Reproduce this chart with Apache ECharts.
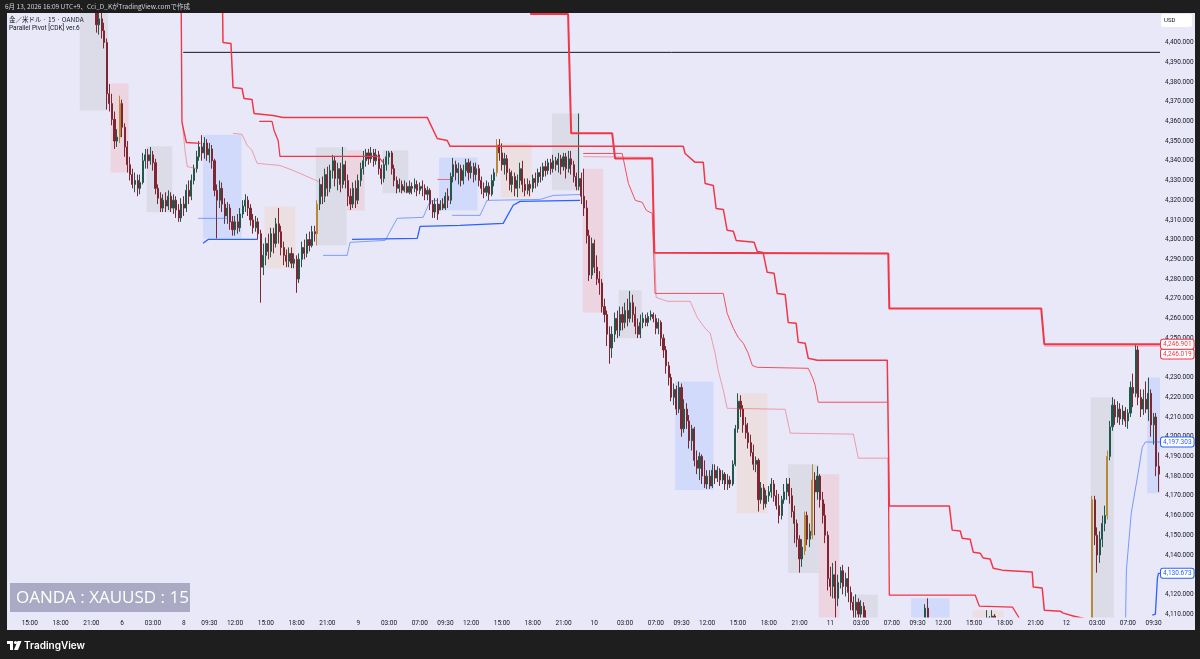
<!DOCTYPE html>
<html><head><meta charset="utf-8">
<script src="https://cdn.jsdelivr.net/npm/echarts@6/dist/echarts.min.js"></script>
<style>
html,body{margin:0;padding:0;background:#1e1e1e;width:1200px;height:659px;overflow:hidden}
#bg{position:absolute;left:7px;top:13px;width:1188px;height:617px;background:#e9e8f9}
#c{position:absolute;left:0;top:0;width:1200px;height:659px}
</style></head><body>
<div id="bg"></div><div id="c"></div>
<script>
// ---------- DATA ----------
const sessions = [
  ["2026-06-05 13:00","2026-06-06 05:45"],
  ["2026-06-08 07:00","2026-06-09 05:45"],
  ["2026-06-09 07:00","2026-06-10 05:45"],
  ["2026-06-10 07:00","2026-06-11 05:45"],
  ["2026-06-11 07:00","2026-06-12 05:45"],
  ["2026-06-12 07:00","2026-06-12 10:00"]
];
const tickLabels = [
  ["06-05 15:00","15:00"],["06-05 18:00","18:00"],["06-05 21:00","21:00"],["06-06 00:00","6"],["06-06 03:00","03:00"],
  ["06-08 07:00","8"],["06-08 09:30","09:30"],["06-08 12:00","12:00"],["06-08 15:00","15:00"],["06-08 18:00","18:00"],["06-08 21:00","21:00"],
  ["06-09 00:00","9"],["06-09 03:00","03:00"],["06-09 07:00","07:00"],["06-09 09:30","09:30"],["06-09 12:00","12:00"],["06-09 15:00","15:00"],["06-09 18:00","18:00"],["06-09 21:00","21:00"],
  ["06-10 00:00","10"],["06-10 03:00","03:00"],["06-10 07:00","07:00"],["06-10 09:30","09:30"],["06-10 12:00","12:00"],["06-10 15:00","15:00"],["06-10 18:00","18:00"],["06-10 21:00","21:00"],
  ["06-11 00:00","11"],["06-11 03:00","03:00"],["06-11 07:00","07:00"],["06-11 09:30","09:30"],["06-11 12:00","12:00"],["06-11 15:00","15:00"],["06-11 18:00","18:00"],["06-11 21:00","21:00"],
  ["06-12 00:00","12"],["06-12 03:00","03:00"],["06-12 07:00","07:00"],["06-12 09:30","09:30"]
];
// [open, close, low, high]
const ohlc = [
[4436,4432,4428,4440],[4432,4428,4424,4436],[4428,4435,4426,4438],[4435,4440,4432,4444],[4440,4437,4433,4443],
[4437,4430,4427,4439],[4430,4426,4422,4433],[4426,4433,4424,4436],[4433,4438,4430,4441],[4438,4442,4435,4446],
[4442,4436,4432,4445],[4436,4431,4428,4439],[4431,4427,4424,4434],[4427,4424,4420,4430],[4424,4429,4421,4432],
[4429,4434,4426,4437],[4434,4431,4427,4437],[4431,4426,4423,4434],[4426,4422,4419,4429],[4422,4425,4419,4428],
[4425,4430,4422,4433],[4430,4428,4424,4433],[4428,4423,4420,4431],[4423,4420,4417,4426],[4420,4424,4417,4427],
[4424,4427,4421,4430],[4427,4425,4421,4430],[4425,4421,4418,4428],[4421,4419,4417,4425],[4419,4422,4417,4426],
[4422,4424,4419,4428],[4424,4420,4417,4427],[4420,4418,4416,4423],[4418,4421,4416,4424],[4421,4409,4405,4423],
[4409,4412,4404,4418],[4412,4406,4402,4416],[4406,4400,4397,4410],[4400,4374,4366,4402],[4374,4369,4365,4379],
[4369,4361,4358,4374],[4361,4350,4346,4365],[4350,4352,4347,4356],[4352,4369,4349,4373],[4369,4357,4352,4371],
[4357,4347,4342,4359],[4347,4338,4334,4350],[4338,4333,4330,4342],[4333,4328,4326,4336],[4328,4330,4324,4334],
[4330,4326,4322,4333],[4326,4329,4323,4333],[4329,4340,4328,4344],[4340,4343,4336,4346],[4343,4340,4336,4346],
[4340,4343,4338,4347],[4343,4339,4335,4345],[4339,4326,4323,4341],[4326,4321,4318,4328],[4321,4316,4314,4324],
[4316,4320,4314,4323],[4320,4317,4314,4324],[4317,4322,4315,4325],[4322,4316,4314,4324],[4316,4320,4313,4323],
[4320,4315,4311,4322],[4315,4311,4309,4318],[4311,4318,4309,4321],[4318,4316,4312,4322],[4316,4325,4314,4328],
[4325,4322,4318,4330],[4322,4330,4320,4333],[4330,4336,4328,4338],[4336,4342,4334,4345],[4342,4347,4340,4350],
[4347,4344,4340,4353],[4344,4349,4341,4352],[4349,4343,4340,4351],[4343,4346,4339,4349],[4346,4340,4336,4348],
[4340,4325,4322,4341],[4325,4320,4300.6,4328],[4320,4326,4316,4330],[4326,4318,4314,4329],[4318,4312,4308,4321],
[4312,4316,4308,4319],[4316,4309,4305,4318],[4309,4305,4302,4312],[4305,4309,4302,4312],[4309,4306,4303,4313],
[4306,4313,4304,4316],[4313,4317,4311,4320],[4317,4320,4314,4323],[4320,4316,4312,4322],[4316,4310,4307,4318],
[4310,4306,4303,4313],[4306,4309,4304,4312],[4309,4303,4300,4311],[4303,4286,4268,4305],[4286,4292,4282,4298],
[4292,4298,4287,4301],[4298,4294,4290,4303],[4294,4303,4291,4306],[4303,4298,4293,4306],[4298,4308,4296,4311],
[4308,4304,4298,4316],[4304,4296,4292,4307],[4296,4292,4287,4299],[4292,4289,4286,4295],[4289,4293,4286,4296],
[4293,4288,4285.5,4296],[4288,4290,4285.5,4293],[4290,4280,4273,4292],[4280,4290,4278,4293],[4290,4296,4286,4299],
[4296,4293,4290,4300],[4293,4300,4291,4303],[4300,4297,4294,4304],[4297,4304,4296,4307],[4304,4303,4299,4307],
[4303,4318,4297,4320],[4318,4328,4315,4331],[4328,4322,4318,4332],[4322,4333,4319,4336],[4333,4326,4322,4337],
[4326,4335,4324,4338],[4335,4340,4331,4343],[4340,4331,4327,4342],[4331,4336,4325,4339],[4336,4328,4324,4339],
[4328,4338,4326,4347],[4338,4330,4326,4340],[4330,4322,4317,4333],[4322,4318,4315,4326],[4318,4326,4316,4329],
[4326,4320,4316,4330],[4320,4330,4318,4333],[4330,4336,4327,4339],[4336,4340,4333,4345],[4340,4344,4337,4346],
[4344,4341,4338,4346],[4341,4344,4339,4347],[4344,4340,4337,4346],[4340,4343,4338,4346],[4343,4336,4333,4345],
[4336,4331,4328,4338],[4331,4338,4329,4341],[4338,4342,4335,4345],[4342,4344,4338,4345],[4344,4336,4333,4345],
[4336,4330,4327,4338],[4330,4326,4323.5,4332],[4326,4328,4324,4331],[4328,4325,4323.5,4330],[4325,4327,4324,4330],
[4327,4324,4323.5,4329],[4324,4327,4323,4330],[4327,4326,4323,4329],[4326,4328,4324,4331],[4328,4325,4322,4330],
[4325,4327,4323,4329],[4327,4326,4322,4330],[4326,4323,4320,4328],[4323,4325,4320,4327],[4325,4318,4315,4326],
[4318,4314,4311,4320],[4314,4318,4311,4321],[4318,4313,4310,4321],[4315,4318,4315,4320],[4318,4316,4315,4321],
[4316,4322,4315,4324],[4322,4320,4316,4326],[4320,4332,4318,4334],[4332,4338,4329,4341.5],[4338,4334,4330,4340],
[4334,4336,4328,4339],[4336,4330,4327,4338],[4330,4335,4328,4338],[4335,4339,4332,4341],[4339,4334,4330,4341],
[4334,4337,4331,4340],[4337,4333,4329,4339],[4333,4336,4330,4339],[4336,4330,4327,4338],[4330,4326,4323,4332],
[4326,4324,4321,4329],[4324,4327,4322,4330],[4327,4323,4320,4329],[4323,4330,4322,4333],[4330,4334,4327,4336],
[4334,4348,4332,4351],[4348,4344,4340,4351],[4344,4338,4335,4348.8],[4338,4341,4333,4344],[4341,4334,4330,4343],
[4334,4328,4325,4336],[4328,4332,4324,4335],[4332,4326,4322,4334],[4326,4330,4321.5,4333],[4330,4336,4326,4339],
[4336,4328,4324,4340],[4328,4325,4322,4331],[4325,4328,4323,4331],[4328,4326,4322,4330],[4326,4331,4324,4333],
[4331,4329,4326,4334],[4329,4334,4327,4336],[4334,4332,4329,4337],[4332,4337,4330,4339],[4337,4335,4332,4340],
[4335,4339,4333,4341],[4339,4336,4333,4341],[4336,4340,4334,4343],[4340,4338,4335,4342],[4338,4341,4334,4344],
[4341,4337,4333,4343],[4337,4342,4335,4344],[4342,4336,4331,4344],[4336,4341,4334,4345],[4341,4338,4333,4345],
[4338,4332,4329,4340],[4332,4327,4325,4334],[4327,4331,4325,4364],[4331,4322,4318,4334],[4322,4316,4312,4336],
[4316,4302,4298,4320],[4302,4282,4279,4305],[4282,4298,4280,4301],[4298,4286,4283,4300],[4286,4280,4277,4292],
[4280,4278,4272,4284],[4278,4266,4263,4280],[4266,4262,4258,4270],[4262,4252,4246,4264],[4252,4245,4237,4256],
[4245,4252,4240,4256],[4252,4260,4248,4263],[4260,4254,4250,4264],[4254,4262,4251,4266],[4262,4258,4254,4266],
[4258,4264,4255,4268],[4264,4260,4256,4270],[4260,4268,4258,4274],[4268,4262,4258,4272],[4262,4256,4252,4266],
[4256,4252,4250,4260],[4252,4258,4250,4262],[4258,4260,4255,4263],[4260,4258,4256,4262],[4258,4261,4256,4263],
[4261,4262,4259,4264],[4262,4260,4258,4263],[4260,4255,4252,4262],[4255,4258,4252,4260],[4258,4250,4246,4259],
[4250,4244,4240,4252],[4244,4236,4232,4246],[4236,4230,4226,4238],[4230,4220,4218,4232],[4220,4224,4216,4227],
[4224,4214,4211,4226],[4214,4225,4212,4228],[4225,4204,4200,4227],[4204,4214,4202,4219],[4214,4208,4204,4217],
[4208,4198,4194,4211],[4198,4204,4193,4206],[4204,4188,4185,4205],[4188,4184,4181,4193],[4184,4190,4178,4192],
[4190,4180,4176,4191],[4180,4176,4174,4188],[4176,4180,4173.5,4183],[4180,4175,4173.5,4183],[4175,4183,4174,4186],
[4183,4179,4176,4186],[4179,4183,4177,4185],[4183,4178,4175,4184],[4178,4181,4176,4183],[4181,4176,4173,4182],
[4176,4178,4173,4181],[4178,4176,4174,4180],[4176,4186,4175,4188],[4186,4204,4185,4206],[4204,4218,4202,4222],
[4218,4214,4210,4221],[4214,4206,4202,4216],[4206,4202,4199,4210],[4202,4197,4194,4207],[4197,4192,4190,4201],
[4192,4186,4183,4196],[4186,4188,4182,4190],[4188,4168,4162,4189],[4168,4174,4166,4177],[4174,4166,4163,4176],
[4166,4170,4164,4173],[4170,4172,4167,4175],[4172,4176,4169,4179],[4176,4170,4167,4178],[4170,4165,4163,4173],
[4165,4160,4156,4171],[4160,4168,4158,4170],[4168,4172,4166,4176],[4172,4176,4168,4179],[4176,4170,4166,4179],
[4170,4162,4159,4174],[4162,4156,4146,4165],[4156,4148,4144,4158],[4148,4138,4131,4150],[4138,4144,4134,4148],
[4142,4160,4140,4162],[4160,4148,4145,4162],[4148,4152,4144,4156],[4150,4178,4148,4186],[4178,4172,4150,4182],
[4172,4180,4168,4185],[4180,4168,4164,4181],[4168,4160,4156,4172],[4160,4150,4146,4166],[4150,4128,4122,4152],
[4128,4124,4119,4134],[4124,4130,4118,4136],[4130,4118,4106,4137],[4118,4126,4114,4130],[4126,4132,4123,4134],
[4132,4124,4120,4135],[4124,4128,4119,4131],[4128,4121,4116,4134],[4121,4116,4112,4124],[4116,4112,4108,4119],
[4112,4116,4106,4120],[4116,4110,4104,4118],[4110,4114,4104,4117],[4114,4108,4100,4116],[4108,4102,4096,4112],
[4102,4098,4094,4108],[4098,4094,4090,4104],[4094,4098,4091,4103],[4098,4092,4088,4102],[4092,4089,4085,4096],
[4089,4093,4086,4097],[4093,4096,4090,4101],[4096,4092,4088,4100],[4092,4095,4089,4099],[4095,4099,4092,4103],
[4099,4096,4093,4104],[4096,4100,4094,4105],[4100,4097,4093,4104],[4097,4093,4090,4101],[4093,4096,4091,4100],
[4096,4099,4094,4103],[4099,4095,4092,4104],[4095,4100,4093,4105],[4100,4098,4095,4106],[4098,4102,4096,4106],
[4102,4099,4096,4106],[4099,4104,4097,4107],[4104,4113,4102,4115],[4113,4106,4100,4118],[4106,4101,4097,4107],
[4101,4098,4095,4104],[4098,4101,4096,4105],[4101,4097,4094,4104],[4097,4094,4091,4100],[4094,4097,4092,4101],
[4097,4093,4090,4100],[4093,4096,4091,4100],[4096,4092,4089,4099],[4092,4089,4086,4095],[4089,4093,4087,4096],
[4093,4096,4091,4100],[4096,4094,4091,4100],[4094,4098,4092,4102],[4098,4101,4096,4104],[4101,4099,4096,4105],
[4099,4102,4097,4106],[4102,4100,4097,4106],[4100,4103,4098,4107],[4103,4101,4098,4106],[4101,4104,4099,4107],
[4104,4102,4099,4107],[4102,4108,4100,4112],[4108,4103,4100,4109],[4103,4109,4101,4112],[4109,4104,4101,4110],
[4104,4100,4097,4107],[4100,4097,4094,4103],[4097,4093,4090,4100],[4093,4090,4087,4096],[4090,4086,4082,4093],
[4086,4089,4083,4092],[4089,4085,4081,4092],[4085,4082,4078,4088],[4082,4086,4079,4089],[4086,4083,4080,4089],
[4083,4080,4076,4086],[4080,4084,4077,4087],[4084,4081,4078,4087],[4081,4078,4074,4084],[4078,4082,4075,4085],
[4082,4079,4076,4085],[4079,4076,4072,4082],[4076,4080,4073,4083],[4080,4077,4074,4083],[4077,4081,4075,4084],
[4081,4078,4075,4084],[4078,4082,4076,4086],[4082,4079,4076,4085],[4079,4076,4073,4082],[4076,4079,4074,4083],
[4079,4082,4077,4086],[4082,4078,4075,4085],[4078,4081,4076,4084],[4081,4084,4079,4088],[4084,4080,4077,4087],
[4080,4077,4074,4083],[4077,4080,4075,4083],[4080,4078,4075,4082],[4078,4082,4076,4085],[4082,4079,4076,4085],
[4079,4083,4077,4086],[4083,4080,4077,4086],[4080,4168,4078,4170],[4168,4150,4145,4170],[4150,4140,4131,4154],
[4140,4148,4136,4152],[4148,4156,4144,4160],[4156,4160,4152,4165],[4160,4190,4158,4193],[4190,4205,4188,4208],
[4205,4216,4203,4220],[4216,4210,4206,4219],[4210,4214,4207,4218],[4214,4209,4206,4217],[4209,4213,4206,4216],
[4213,4208,4205,4215],[4208,4212,4204,4214],[4212,4225,4210,4228],[4225,4222,4215,4232],[4222,4244,4220,4247],
[4244,4220,4216,4246],[4220,4214,4210,4224],[4214,4219,4211,4224],[4219,4214,4212,4228],[4214,4222,4208,4230],
[4222,4206,4200,4224],[4206,4210,4196,4212],[4210,4185,4180,4212],[4185,4181,4172,4192]
];
const orangeBars = [43,120,190,310,313,422,428];
// session boxes: [firstBar, lastBar, top, bottom, kind(0 gray,1 red,2 blue,3 tan)]
const sessionBoxes = [
[28,38,4430,4365.5,0],[40,46,4379.2,4334.1,1],[54,63,4347.3,4313.9,0],[76,90,4353.2,4300.6,2],
[100,111,4316.8,4285.4,3],[120,131,4346.8,4297,0],[132,138,4345.3,4314.8,1],[146,155,4345.3,4323.5,0],
[168,182,4341.7,4314.8,2],[192,203,4348.8,4321.4,3],[212,222,4364,4325,0],[224,231,4336,4263,1],
[238,246,4274.3,4250,0],[260,274,4228,4172.9,2],[284,295,4222,4161.2,3],[304,315,4186,4130.8,0],
[316,323,4181,4095,1],[330,338,4120,4085,0],[352,366,4118,4085,2],[376,387,4112,4080,3],
[422,430,4220,4070,0],[444,448,4230,4171.3,2]
];
// pivot lines: [barIndex, price]
const pivotWeekOpen = [[67,4420],[67.3,4359.5],[69,4349.3],[74.5,4348.8]];
const pivotWeekOpenThin = [[67.5,4359],[68.5,4345],[69.4,4337],[70,4336],[73.5,4336]];
const pivotFallThin = [[87.2,4353.9],[90.7,4353.4],[92.7,4347.8],[94.6,4345.3],[96.6,4338.7],[105.5,4337.6],[110.6,4335.1],[119.6,4330],[121.1,4329]];
const pivotShort = [[166.8,4330.5],[171.8,4330.5]];
const pivotMid = [[97.4,4360],[102.4,4360],[103.2,4355.4],[104.8,4350.3],[105.5,4342.2],[143.7,4342.2],[145.7,4339.2]];
const pivotMain = [[83.1,4420],[83.3,4400],[86.4,4399.5],[87.2,4377.2],[90.7,4376.7],[91.5,4371.6],[94.6,4371.1],[95.4,4364],[102.8,4363],[106.7,4362],[162.9,4362],[166.8,4351.3],[170.7,4350.3],[171.8,4347.3],[262.7,4347.3],[263.4,4343.7],[267.3,4339.2],[270.5,4339.2],[271.2,4328.5],[274.4,4327.5],[275.5,4315.8],[278.3,4315.3],[279.8,4304.7],[282.2,4304.2],[283.3,4299.6],[290.3,4298.6],[291.5,4294],[293.8,4293.5],[295.4,4283.4],[298.1,4282.9],[299.3,4272.7],[302.4,4272.2],[303.6,4258],[306.7,4257.5],[307.5,4247.9],[310.2,4247.4],[311.4,4239.8],[314.9,4238.8],[342.2,4238.8],[343,4164.8],[366.4,4164.8],[367.5,4152.6],[370.7,4152.1],[371.4,4148.5],[374.5,4148],[375.7,4141.4],[378.4,4140.9],[379.6,4138.4],[382.3,4137.9],[383.5,4133.3],[387,4132.3],[398.7,4131.3],[399.1,4123.7],[402.6,4123.2],[403.4,4112],[409.6,4111.5],[410.8,4110.5],[414.7,4109],[421.3,4107],[425,4100]];
const pivotWeekly = [[203,4414.5],[217.8,4414.5],[219,4353.9],[235,4353.9],[236.1,4341.2],[250.6,4341.2],[251.4,4293.3],[342.6,4293],[343,4265.1],[402.2,4265.1],[403.4,4246.9],[448.5,4246.901]];
const pivotUpper = [[223.7,4343.7],[238.9,4343.7],[241.3,4328.5],[244,4319.9],[246.7,4318.9],[248.3,4314.8],[250.6,4313.3],[251.7,4272.7],[278.3,4272.7],[279.8,4262.6],[282.2,4255],[284.1,4250.4],[286.1,4247.4],[288,4242.3],[289.6,4236.2],[291.5,4235.2],[311.4,4234.7],[313,4230.2],[314.1,4226.1],[315.3,4217.5],[342.6,4217.5]];
const pivotLowerThin = [[223.7,4342.1],[250.6,4341.7],[252.1,4270.7],[256.4,4268.7],[265.4,4268.7],[268.1,4260.6],[271.2,4255],[273.2,4252.5],[275.1,4242.3],[276.3,4233.7],[278.3,4223.6],[279.8,4214.4],[302.4,4213.9],[304.4,4201.8],[329,4201.3],[330.9,4189.1],[342.6,4189.1]];
const pivotLow = [[342.6,4189.1],[343,4119.6],[376.5,4119.6],[378.1,4114],[391,4113.5],[394.1,4107],[396,4100]];
const pivotEnd2 = [[403.4,4246.0],[448.5,4246.019]];
const supportAThin = [[73.6,4310.8],[85.3,4310.8]];
const supportA = [[75.5,4298.1],[77.5,4300.1],[96.6,4300.1]];
const supportBThin = [[122.3,4292],[131.7,4292],[132.8,4298.6],[146.5,4299.6],[151.2,4310.8],[161.3,4311.3],[164,4319.4],[166.8,4319.9]];
const supportB = [[133.6,4300.1],[159,4300.6],[160.1,4306.7],[175.7,4307.2],[192.5,4308.2],[196.4,4317.4],[199.1,4319.4],[222.5,4319.9]];
const supportCThin = [[172.6,4312.3],[183.5,4312.3],[186.2,4319.9],[206.9,4320.4],[212,4322.4],[222.5,4322.9]];
const supportDThin = [[435,4100],[435.4,4132.3],[437.3,4161.2],[439.7,4179.5],[441.6,4194.7],[442.8,4197.303],[448.5,4197.303]];
const supportD = [[445.5,4109.5],[446.7,4110],[447.5,4128.3],[447.9,4130.673],[448.5,4130.673]];
const blackLevel = [[67.8,4395],[448.5,4395]];

// ---------- BUILD ----------
function parseT(s){const [d,t]=s.split(' ');const [Y,M,D]=d.split('-').map(Number);const [h,m]=t.split(':').map(Number);return Date.UTC(Y,M-1,D,h,m);}
const pad=n=>String(n).padStart(2,'0');
function fmtT(t){const d=new Date(t);return pad(d.getUTCMonth()+1)+'-'+pad(d.getUTCDate())+' '+pad(d.getUTCHours())+':'+pad(d.getUTCMinutes());}
const categories=[];
sessions.forEach(([a,b])=>{for(let t=parseT(a),e=parseT(b);t<=e;t+=900000)categories.push(fmtT(t));});
const tickMap=new Map(tickLabels);
function fmtPrice(v){const [a,b]=Number(v).toFixed(3).split('.');return a.replace(/\B(?=(\d{3})+$)/g,',')+'.'+b;}

const UP='#24574b', DOWN='#802633', ORANGE='#b68a36';
const RED='#f23645', BLUE='#2962ff';
const boxColors=['#dbdce8','#ecd4e1','#d2dafb','#ecdfe2'];
const candleData=ohlc.map((v,i)=>orangeBars.includes(i)?{value:v,itemStyle:{color:ORANGE,color0:ORANGE,borderColor:ORANGE,borderColor0:ORANGE}}:v);

function tag(color,dy){return {show:true,formatter:p=>fmtPrice(p.value[1]),color:color,backgroundColor:'#ffffff',borderColor:color,borderWidth:1,borderRadius:2,padding:[1,2,1,2],fontSize:6.5,fontFamily:'Roboto',distance:1,offset:[0,dy||0]};}
function line(data,color,width,label){return {type:'line',xAxisIndex:1,yAxisIndex:0,data:data,symbol:'none',showSymbol:false,silent:true,z:5,lineStyle:{color:color,width:width},endLabel:label||{show:false}};}

const BGC='#e9e8f9', DARK='#1e1e1e';
const option={
  animation:false,
  grid:{left:8,right:40,top:3.08,bottom:25.2},
  xAxis:[
    {type:'category',data:categories,boundaryGap:true,z:60,
     axisLine:{show:false},axisTick:{show:false},splitLine:{show:false},
     axisLabel:{inside:true,margin:7,fontSize:6.5,color:'#131722',fontFamily:'Roboto',
       interval:(i,v)=>tickMap.has(v),formatter:v=>tickMap.get(v)||''}},
    {type:'value',min:-0.5,max:categories.length-0.5,show:false}
  ],
  yAxis:{type:'value',position:'right',min:4100,max:4420,interval:10,scale:true,
    axisLine:{show:false},axisTick:{show:false},splitLine:{show:false},
    axisLabel:{margin:5,fontSize:6.5,color:'#131722',fontFamily:'Roboto',
      formatter:v=>(v<4105||v>4405)?'':fmtPrice(v)}},
  series:[
    {type:'custom',xAxisIndex:1,yAxisIndex:0,data:sessionBoxes,encode:{x:[0,1],y:[2,3]},clip:true,silent:true,z:1,
     renderItem:(params,api)=>{const a=api.coord([api.value(0)-0.5,api.value(2)]);const b=api.coord([api.value(1)+0.5,api.value(3)]);
       return {type:'rect',shape:{x:a[0],y:a[1],width:b[0]-a[0],height:b[1]-a[1]},style:{fill:boxColors[api.value(4)]}};}},
    {type:'candlestick',xAxisIndex:0,yAxisIndex:0,data:candleData,barWidth:'62%',z:3,silent:true,
     itemStyle:{color:UP,color0:DOWN,borderColor:UP,borderColor0:DOWN,borderWidth:1}},
    line(blackLevel,'#131722',1),
    line(pivotWeekOpen,RED,1.4),
    line(pivotWeekOpenThin,'rgba(242,54,69,0.55)',0.8),
    line(pivotFallThin,'rgba(242,54,69,0.55)',0.8),
    line(pivotShort,'rgba(242,54,69,0.7)',1),
    line(pivotMid,RED,1.3),
    line(pivotMain,RED,1.5),
    line(pivotUpper,'#f0505d',1),
    line(pivotLowerThin,'rgba(242,54,69,0.55)',0.8),
    line(pivotLow,RED,1.3),
    line(pivotEnd2,'rgba(242,54,69,0.6)',0.8,tag(RED,8)),
    line(pivotWeekly,RED,2,tag(RED,0)),
    line(supportAThin,'rgba(41,98,255,0.7)',0.8),
    line(supportA,BLUE,1.3),
    line(supportBThin,'rgba(41,98,255,0.7)',0.8),
    line(supportB,BLUE,1.3),
    line(supportCThin,'rgba(41,98,255,0.7)',0.8),
    line(supportDThin,'rgba(41,98,255,0.75)',0.8,tag(BLUE,0)),
    line(supportD,BLUE,1.3,tag(BLUE,0))
  ],
  graphic:[
    {type:'rect',z:50,silent:true,shape:{x:0,y:0,width:1200,height:13},style:{fill:DARK}},
    {type:'text',z:55,silent:true,style:{x:5,y:6.5,text:'6月 13, 2026 16:09 UTC+9、Cci_D_KがTradingView.comで作成',fill:'#d1d4dc',fontSize:6.5,fontFamily:'Noto Sans CJK JP',verticalAlign:'middle'}},
    {type:'rect',z:50,silent:true,shape:{x:7,y:617.5,width:1188,height:12.5},style:{fill:BGC}},
    {type:'rect',z:50,silent:true,shape:{x:0,y:630,width:1200,height:29},style:{fill:DARK}},
    {type:'rect',z:50,silent:true,shape:{x:1195,y:0,width:5,height:659},style:{fill:DARK}},
    {type:'text',z:55,silent:true,style:{x:9,y:20,text:'金／米ドル · 15 · OANDA',fill:'#131722',fontSize:6.5,fontFamily:'Noto Sans CJK JP',verticalAlign:'middle'}},
    {type:'text',z:55,silent:true,style:{x:9,y:28,text:'Parallel Pivot [CDK] ver.6',fill:'#131722',fontSize:6.5,fontFamily:'Roboto',verticalAlign:'middle'}},
    {type:'rect',z:55,silent:true,shape:{x:1161,y:14,width:31,height:13,r:2},style:{fill:'#ffffff'}},
    {type:'text',z:56,silent:true,style:{x:1164,y:20.5,text:'USD',fill:'#131722',fontSize:6,fontFamily:'Roboto',verticalAlign:'middle'}},
    {type:'rect',z:55,silent:true,shape:{x:10,y:583,width:180,height:29},style:{fill:'#aaaac4'}},
    {type:'text',z:56,silent:true,style:{x:16,y:598,text:'OANDA : XAUUSD : 15',fill:'#ffffff',fontSize:17,fontFamily:'Open Sans',verticalAlign:'middle'}},
    {type:'rect',z:55,silent:true,shape:{x:7,y:641,width:6,height:3},style:{fill:'#ffffff'}},
    {type:'rect',z:55,silent:true,shape:{x:10,y:641,width:3,height:9},style:{fill:'#ffffff'}},
    {type:'circle',z:55,silent:true,shape:{cx:15.5,cy:642.5,r:1.6},style:{fill:'#ffffff'}},
    {type:'polygon',z:55,silent:true,shape:{points:[[17.5,641],[21.5,641],[18,650],[14,650]]},style:{fill:'#ffffff'}},
    {type:'text',z:55,silent:true,style:{x:24,y:645.5,text:'TradingView',fill:'#ffffff',fontSize:10,fontWeight:600,fontFamily:'Inter',verticalAlign:'middle'}}
  ]
};
const chart=echarts.init(document.getElementById('c'),null,{renderer:'canvas'});
chart.setOption(option);
</script></body></html>
